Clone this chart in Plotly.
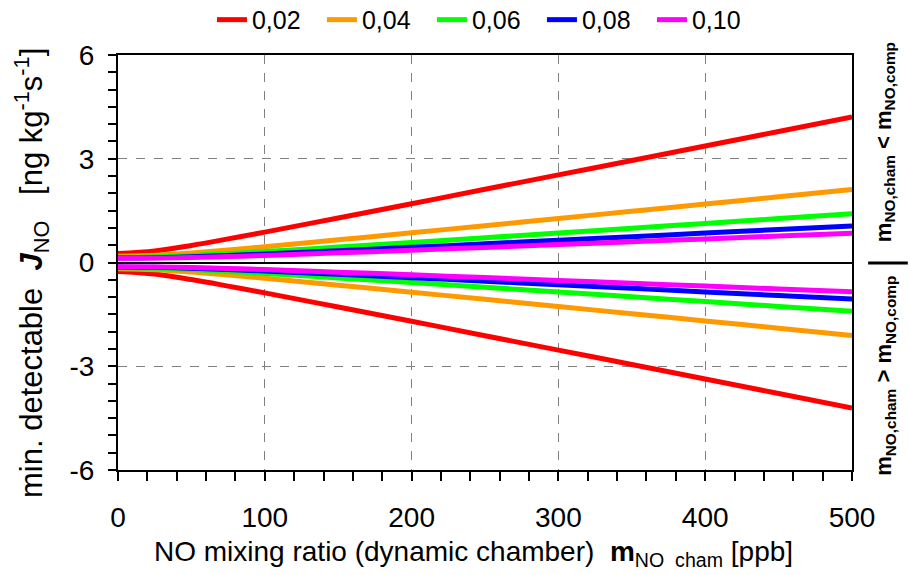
import plotly.graph_objects as go

# ---- data ----
x_ppb = [0, 25, 50, 75, 100, 150, 200, 250, 300, 350, 400, 450, 500]
series_names = ["0,02", "0,04", "0,06", "0,08", "0,10"]
series_colors = ["#ff0000", "#ff9900", "#00ff00", "#0000ff", "#ff00ff"]

upper_002 = [0.26, 0.334, 0.494, 0.682, 0.879, 1.287, 1.70, 2.116, 2.533, 2.951, 3.370, 3.789, 4.208]
upper_004 = [0.18, 0.208, 0.277, 0.363, 0.457, 0.655, 0.859, 1.065, 1.273, 1.481, 1.690, 1.899, 2.108]
upper_006 = [0.15, 0.166, 0.205, 0.258, 0.318, 0.446, 0.580, 0.716, 0.853, 0.991, 1.130, 1.269, 1.408]
upper_008 = [0.13, 0.140, 0.167, 0.204, 0.247, 0.341, 0.440, 0.541, 0.643, 0.746, 0.850, 0.954, 1.058]
upper_010 = [0.12, 0.127, 0.146, 0.174, 0.206, 0.279, 0.357, 0.437, 0.518, 0.600, 0.683, 0.765, 0.849]

lower_002 = [-0.26, -0.334, -0.494, -0.682, -0.879, -1.287, -1.70, -2.116, -2.533, -2.951, -3.370, -3.789, -4.208]
lower_004 = [-0.18, -0.208, -0.277, -0.363, -0.457, -0.655, -0.859, -1.065, -1.273, -1.481, -1.690, -1.899, -2.108]
lower_006 = [-0.15, -0.166, -0.205, -0.258, -0.318, -0.446, -0.580, -0.716, -0.853, -0.991, -1.130, -1.269, -1.408]
lower_008 = [-0.13, -0.140, -0.167, -0.204, -0.247, -0.341, -0.440, -0.541, -0.643, -0.746, -0.850, -0.954, -1.058]
lower_010 = [-0.12, -0.127, -0.146, -0.174, -0.206, -0.279, -0.357, -0.437, -0.518, -0.600, -0.683, -0.765, -0.849]

uppers = [upper_002, upper_004, upper_006, upper_008, upper_010]
lowers = [lower_002, lower_004, lower_006, lower_008, lower_010]

FONT = "Arial, Liberation Sans, sans-serif"

fig = go.Figure()
for name, color, up, lo in zip(series_names, series_colors, uppers, lowers):
    fig.add_trace(go.Scatter(x=x_ppb, y=up, mode="lines", name=name,
                             line=dict(color=color, width=5, shape="spline"),
                             legendgroup=name, showlegend=True))
    fig.add_trace(go.Scatter(x=x_ppb, y=lo, mode="lines", name=name,
                             line=dict(color=color, width=5, shape="spline"),
                             legendgroup=name, showlegend=False))

fig.update_layout(
    width=909, height=575,
    margin=dict(l=118, r=57, t=55, b=105, autoexpand=False),
    paper_bgcolor="white", plot_bgcolor="white",
    font=dict(family=FONT, size=24, color="black"),
    showlegend=True,
    legend=dict(orientation="h", x=0.128, xanchor="left", y=1.14, yanchor="top",
                font=dict(size=25), itemwidth=30, bgcolor="rgba(0,0,0,0)",
                entrywidth=65, entrywidthmode="pixels", tracegroupgap=0),
)

fig.update_xaxes(
    range=[0, 500], tickvals=[0, 100, 200, 300, 400, 500],
    ticks="outside", ticklen=9, tickwidth=1.5, tickcolor="black",
    minor=dict(dtick=20, ticks="outside", ticklen=9, tickwidth=1.5, tickcolor="black", showgrid=False),
    showline=True, linecolor="black", linewidth=2, mirror=True,
    showgrid=True, gridcolor="#808080", griddash="dash", gridwidth=1,
    zeroline=False, ticklabelstandoff=12,
    tickfont=dict(size=28),
)
fig.update_yaxes(
    range=[-6, 6], tickvals=[-6, -3, 0, 3, 6], ticktext=["-6", "-3", "0", "3", "6"],
    ticks="outside", ticklen=8, tickwidth=1.5, tickcolor="black",
    minor=dict(dtick=0.5, ticks="outside", ticklen=8, tickwidth=1.5, tickcolor="black", showgrid=False),
    showline=True, linecolor="black", linewidth=2, mirror=True,
    showgrid=True, gridcolor="#808080", griddash="dash", gridwidth=1,
    zeroline=True, zerolinecolor="black", zerolinewidth=2,
    ticklabelstandoff=8,
    tickfont=dict(size=28),
)

# y-axis title
fig.add_annotation(
    text="min. detectable\u00a0\u00a0<b><i>J</i></b><sub>NO</sub>\u00a0\u00a0\u00a0[ng kg<sup>-1</sup>s<sup>-1</sup>]",
    xref="paper", yref="paper", x=-0.117, y=0.475, xanchor="center", yanchor="middle",
    textangle=-90, showarrow=False, font=dict(size=31, family=FONT))

# x-axis title
fig.add_annotation(
    text="NO mixing ratio (dynamic chamber)\u00a0\u00a0<b>m</b><sub>NO\u00a0 cham</sub> [ppb]",
    xref="paper", yref="paper", x=0.484, y=-0.2, xanchor="center", yanchor="middle",
    showarrow=False, font=dict(size=28, family=FONT))

# right-hand labels
fig.add_annotation(
    text="<b>m<sub>NO,cham</sub> &lt; m<sub>NO,comp</sub></b>",
    xref="paper", yref="paper", x=1.045, y=0.79, xanchor="center", yanchor="middle",
    textangle=-90, showarrow=False, font=dict(size=22, family=FONT))
fig.add_annotation(
    text="<b>m<sub>NO,cham</sub> &gt; m<sub>NO,comp</sub></b>",
    xref="paper", yref="paper", x=1.045, y=0.227, xanchor="center", yanchor="middle",
    textangle=-90, showarrow=False, font=dict(size=22, family=FONT))
fig.add_shape(type="line", xref="paper", yref="paper",
              x0=1.022, x1=1.076, y0=0.4988, y1=0.4988,
              line=dict(color="black", width=3))

fig.write_html("out.html")
